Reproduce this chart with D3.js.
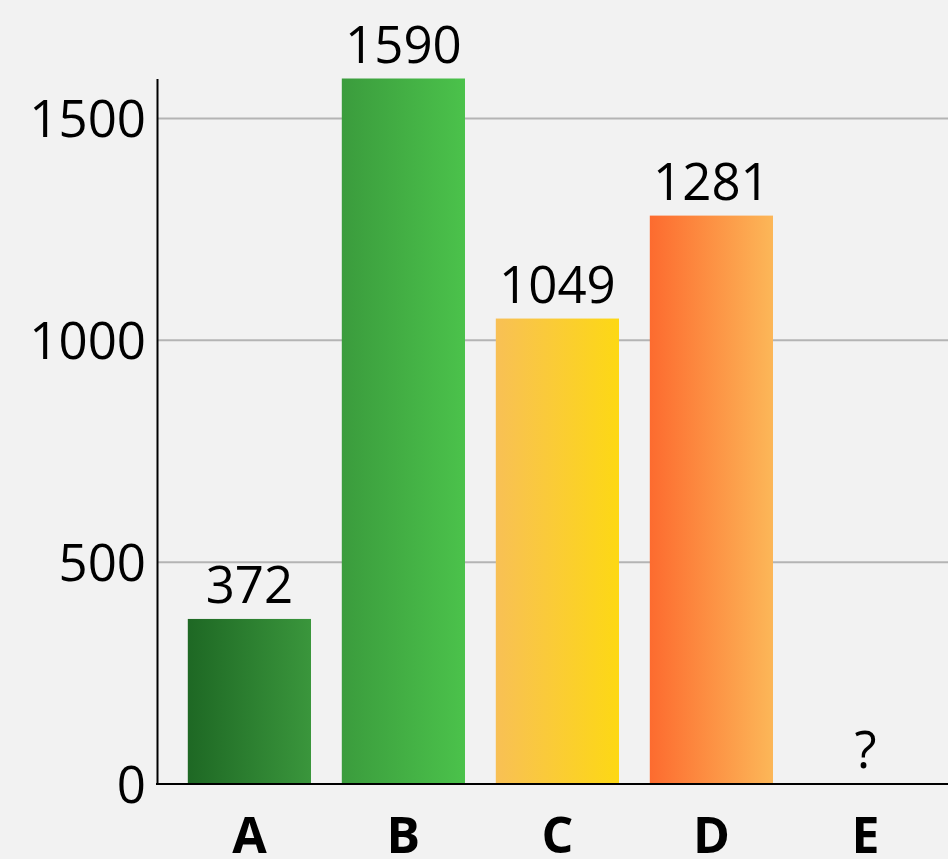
<!DOCTYPE html>
<html>
<head>
<meta charset="utf-8">
<script src="https://cdn.jsdelivr.net/npm/d3@7"></script>
<style>
html, body { margin: 0; padding: 0; background: #f2f2f2; }
#chart { width: 948px; height: 859px; }
text { font-family: "Open Sans", "Noto Sans", sans-serif; }
</style>
</head>
<body>
<div id="chart"></div>
<script>
// data
var categories = ["A", "B", "C", "D", "E"]
var values = [372, 1590, 1049, 1281, null]
var yTicks = [0, 500, 1000, 1500]
// gradient stops for each bar, left -> right
var gradFrom = ["#1e6824", "#3b9c3d", "#f8c055", "#fd6b2f", "#cccccc"]
var gradTo = ["#3a963c", "#4bc24b", "#fdd814", "#fcb758", "#cccccc"]

var w = 948, h = 859
// plot edges (note: "top" is taken by window.top)
var plotLeft = 157, plotBottom = 784, plotTop = 78.5
var fontSize = "51px"

var svg = d3.select("#chart")
	.append("svg")
	.attr("width", w)
	.attr("height", h)

svg.append("rect").attr("width", w).attr("height", h).attr("fill", "#f2f2f2")

var x = d3.scaleBand()
	.domain(categories)
	.range([plotLeft, plotLeft + 154 * 5.2])
	.paddingInner(0.2)
	.paddingOuter(0.2)

var y = d3.scaleLinear()
	.domain([0, 1590])
	.range([plotBottom, plotTop])

// gradients
var defs = svg.append("defs")
categories.forEach(function(c, i) {
	var g = defs.append("linearGradient")
		.attr("id", "grad" + c)
		.attr("x1", "0%").attr("x2", "100%")
		.attr("y1", "0%").attr("y2", "0%")
	g.append("stop").attr("offset", "0%").attr("stop-color", gradFrom[i])
	g.append("stop").attr("offset", "100%").attr("stop-color", gradTo[i])
})

// gridlines
svg.append("g")
	.selectAll("line")
	.data(yTicks.filter(function(d) { return d > 0 }))
	.enter().append("line")
	.attr("x1", plotLeft).attr("x2", w)
	.attr("y1", function(d) { return y(d) }).attr("y2", function(d) { return y(d) })
	.attr("stroke", "#b4b4b4")
	.attr("stroke-width", 2)

// y axis
var yAxis = svg.append("g")
	.attr("transform", "translate(" + plotLeft + ",0)")
	.call(d3.axisLeft(y).tickValues(yTicks).tickFormat(d3.format("d")).tickSize(0).tickPadding(11))
yAxis.select(".domain").attr("stroke", "#000").attr("stroke-width", 2)
yAxis.selectAll("text")
	.attr("fill", "#000")
	.style("font-size", fontSize)
	.attr("dy", "0.36em")

// bars
var data = categories.map(function(c, i) { return {cat: c, val: values[i]} })

svg.append("g")
	.selectAll("rect")
	.data(data.filter(function(d) { return d.val != null }))
	.enter().append("rect")
	.attr("x", function(d) { return x(d.cat) })
	.attr("width", x.bandwidth())
	.attr("y", function(d) { return y(d.val) })
	.attr("height", function(d) { return plotBottom - y(d.val) })
	.attr("fill", function(d) { return "url(#grad" + d.cat + ")" })

// value labels
svg.append("g")
	.selectAll("text")
	.data(data)
	.enter().append("text")
	.attr("x", function(d) { return x(d.cat) + x.bandwidth() / 2 })
	.attr("y", function(d) { return (d.val != null ? y(d.val) : plotBottom) - 16 })
	.attr("text-anchor", "middle")
	.style("font-size", fontSize)
	.attr("fill", "#000")
	.text(function(d) { return d.val != null ? d.val : "?" })

// x axis
var xAxis = svg.append("g")
	.attr("transform", "translate(0," + plotBottom + ")")
	.call(d3.axisBottom(x).tickSize(0).tickPadding(0))
xAxis.select(".domain").remove()
svg.append("line")
	.attr("x1", plotLeft - 1).attr("x2", w)
	.attr("y1", plotBottom).attr("y2", plotBottom)
	.attr("stroke", "#000").attr("stroke-width", 2)
xAxis.selectAll("text")
	.attr("y", 69)
	.attr("dy", 0)
	.attr("fill", "#000")
	.style("font-size", "50px")
	.style("font-weight", "bold")
</script>
</body>
</html>
